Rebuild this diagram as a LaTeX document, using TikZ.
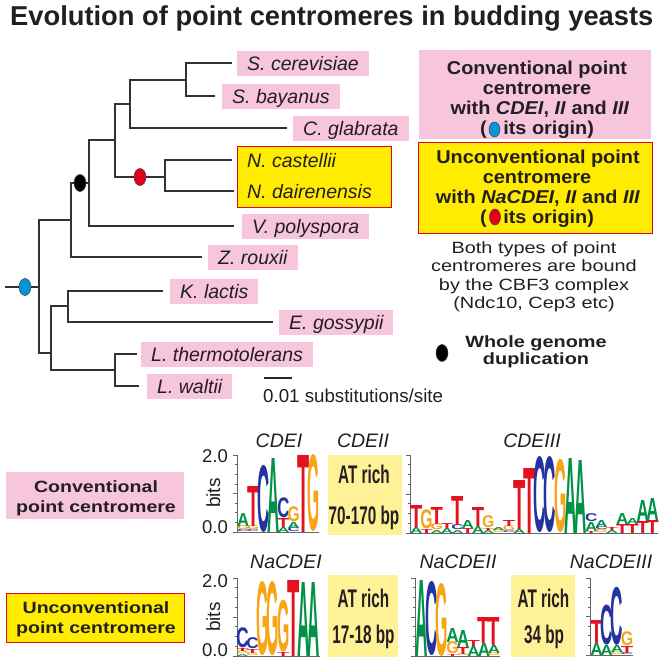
\documentclass[tikz,border=0pt]{standalone}
\usepackage{fontspec}
\setmainfont{Liberation Sans}
\usepackage{graphicx}
\usetikzlibrary{shapes.geometric}

\definecolor{txt}{RGB}{35,31,32}
\definecolor{pinkbg}{RGB}{247,197,220}
\definecolor{yelbg}{RGB}{255,236,0}
\definecolor{redline}{RGB}{226,0,26}
\definecolor{atbg}{RGB}{255,242,150}
\definecolor{ntA}{RGB}{0,146,69}
\definecolor{ntC}{RGB}{35,52,160}
\definecolor{ntG}{RGB}{248,164,20}
\definecolor{ntT}{RGB}{228,18,30}
\definecolor{dotblue}{RGB}{0,150,220}
\definecolor{dotred}{RGB}{226,0,26}

%% one column of a sequence logo: name, x centre, baseline, letters bottom to top
\newcommand\logocol[4]{%
  \xdef\ystack{#3}%
  \foreach \nuc/\hgt [count=\i] in {#4} {
    \node[ntletter] (#1-\i) at (#2,\ystack) {\resizebox*{\colw}{\hgt pt}{\textcolor{nt\nuc}{\nuc}}};
    \pgfmathsetmacro\ynext{\ystack-\hgt}
    \xdef\ystack{\ynext}
  }%
}
%% logo axes: name, x, y top, y bottom, x end
\newcommand\logoaxis[5]{%
  \coordinate (#1-top) at (#2,#3);
  \coordinate (#1-org) at (#2,#4);
  \coordinate (#1-end) at (#5,#4);
  \draw[axisline] (#1-top) -- (#1-org) -- (#1-end);
  \foreach \t in {0,...,8} {
    \pgfmathsetmacro\yt{#4-(#4-#3)*\t/8}
    \pgfmathsetmacro\tl{mod(\t,4)==0 ? 4 : 2}
    \draw[axisline] (#2,\yt) -- ++(-\tl,0);
  }%
}

\begin{document}
\begin{tikzpicture}[x=1pt, y=-1pt,
  branch/.style={draw=black!80, line width=1.6pt},
  leaf/.style={fill=pinkbg, text=txt, anchor=west, font={\fontsize{19.5}{22}\selectfont\itshape},
    text height=14pt, text depth=0pt, minimum height=25pt, inner xsep=10pt, inner ysep=0pt},
  leafin/.style={leaf, fill=none},
  wdot/.style={ellipse, draw=black!75, line width=0.5pt, inner sep=0pt, minimum width=12pt, minimum height=17pt},
  txtline/.style={inner sep=0pt, anchor=base, text=txt},
  boxline/.style={txtline, font={\fontsize{18.6}{20}\selectfont\bfseries}, xscale=1.07},
  noteline/.style={txtline, font={\fontsize{16.3}{18}\selectfont}, xscale=1.22},
  wgdline/.style={txtline, font={\fontsize{16.3}{18}\selectfont\bfseries}, xscale=1.22},
  rowline/.style={txtline, font={\fontsize{16.3}{18}\selectfont\bfseries}, xscale=1.2},
  logotitle/.style={txtline, font={\fontsize{19.5}{22}\selectfont\itshape}},
  bitnum/.style={txtline, anchor=base east, font={\fontsize{18.5}{20}\selectfont}},
  atline/.style={txtline, font={\fontsize{25.5}{28}\selectfont\bfseries}, xscale=0.6},
  ntletter/.style={inner sep=0pt, outer sep=0pt, anchor=south, font=\bfseries},
  axisline/.style={draw=black!60, line width=0.6pt},
  panel/.style={inner sep=0pt, anchor=north west}]

\useasboundingbox (0,0) rectangle (664,664);
\fill[white] (0,0) rectangle (664,664);

\node[txtline, anchor=base west, font={\fontsize{27.3}{30}\selectfont\bfseries}] (title) at (10,25)
  {Evolution of point centromeres in budding yeasts};

%% === tree ===
\coordinate (r0)  at (5,287);
\coordinate (nR)  at (39,287);
\coordinate (nU)  at (71,220);
\coordinate (nW)  at (89,183);
\coordinate (nA1) at (115,140);
\coordinate (nA2) at (130,104);
\coordinate (nA3) at (186,80);
\coordinate (nN)  at (165,177);
\coordinate (nL)  at (51,353);
\coordinate (nK)  at (68,306);
\coordinate (nLt) at (115,370);

\node[leaf] (Sc) at (237,63) {S. cerevisiae};
\node[leaf] (Sb) at (222,96) {S. bayanus};
\node[leaf] (Cg) at (293,128) {C. glabrata};
\node[panel, fill=yelbg, draw=redline, line width=1.2pt, minimum width=154pt, minimum height=61pt] (Nbox) at (237,146) {};
\node[leafin] (Nc) at (237,160) {N. castellii};
\node[leafin] (Nd) at (237,191) {N. dairenensis};
\node[leaf] (Vp) at (242,226) {V. polyspora};
\node[leaf] (Zr) at (208,257) {Z. rouxii};
\node[leaf] (Kl) at (170,291) {K. lactis};
\node[leaf] (Eg) at (279,322) {E. gossypii};
\node[leaf] (Lth) at (141,354) {L. thermotolerans};
\node[leaf] (Lwa) at (147,386) {L. waltii};

\draw[branch] (r0) -- (nR);
\draw[branch] (nR) |- (nU);
\draw[branch] (nR) |- (nL);
\draw[branch] (nU) |- (nW);
\draw[branch, shorten >=6pt] (nU) |- (Zr.west);
\draw[branch] (nW) |- (nA1);
\draw[branch, shorten >=8pt] (nW) |- (Vp.west);
\draw[branch] (nA1) |- (nA2);
\draw[branch] (nA1) |- (nN);
\draw[branch] (nA2) |- (nA3);
\draw[branch, shorten >=6pt] (nA2) |- (Cg.west);
\draw[branch, shorten >=5pt] (nA3) |- (Sc.west);
\draw[branch, shorten >=7pt] (nA3) |- (Sb.west);
\draw[branch, shorten >=5pt] (nN) |- (Nc.west);
\draw[branch, shorten >=3pt] (nN) |- (Nd.west);
\draw[branch] (nL) |- (nK);
\draw[branch] (nL) |- (nLt);
\draw[branch, shorten >=7pt] (nK) |- (Kl.west);
\draw[branch, shorten >=6pt] (nK) |- (Eg.west);
\draw[branch, shorten >=4pt] (nLt) |- (Lth.west);
\draw[branch, shorten >=8pt] (nLt) |- (Lwa.west);

\node[wdot, fill=dotblue] (oConv) at (25,287) {};
\node[wdot, fill=black] (oWGD) at (80,183) {};
\node[wdot, fill=dotred] (oNa) at (140,177) {};

%% scale bar
\coordinate (sbL) at (264,378);
\coordinate (sbR) at (292,378);
\draw[line width=2.6pt, black!85] (sbL) -- (sbR);
\node[txtline, anchor=base west, font={\fontsize{18.7}{20}\selectfont}] (sbT) at (263,402) {0.01 substitutions/site};

%% === legend ===
\node[panel, fill=pinkbg, minimum width=232pt, minimum height=89pt] (convBox) at (419,50) {};
\node[boxline] (cv1) at (537,74) {Conventional point};
\node[boxline] (cv2) at (537,94) {centromere};
\node[boxline] (cv3) at (540,114) {with \textit{CDEI}, \textit{II} and \textit{III}};
\node[boxline] (cv4) at (537,134) {(\hspace{15.6pt}its origin)};
\node[wdot, fill=dotblue, minimum width=11pt, minimum height=15pt] (oConvKey) at (494.5,129.5) {};

\node[panel, fill=yelbg, draw=redline, line width=1.2pt, minimum width=234pt, minimum height=91pt] (unconvBox) at (418,142) {};
\node[boxline] (uc1) at (538,163) {Unconventional point};
\node[boxline] (uc2) at (537,183) {centromere};
\node[boxline] (uc3) at (538,203) {with \textit{NaCDEI}, \textit{II} and \textit{III}};
\node[boxline] (uc4) at (537,223) {(\hspace{15.6pt}its origin)};
\node[wdot, fill=dotred, minimum width=11pt, minimum height=16pt] (oNaKey) at (495,217) {};

\node[noteline] (cb1) at (534,253) {Both types of point};
\node[noteline] (cb2) at (534,271.5) {centromeres are bound};
\node[noteline] (cb3) at (534,290) {by the CBF3 complex};
\node[noteline] (cb4) at (534,308) {(Ndc10, Cep3 etc)};

\node[wdot, fill=black] (oWGDKey) at (442,353) {};
\node[wgdline] (wg1) at (536,347) {Whole genome};
\node[wgdline] (wg2) at (536,364) {duplication};

%% === rows of logos ===
\node[panel, fill=pinkbg, minimum width=178pt, minimum height=47pt] (convRow) at (6,472) {};
\node[rowline] (cr1) at (96,492) {Conventional};
\node[rowline] (cr2) at (96,512) {point centromere};
\node[panel, fill=yelbg, draw=redline, line width=1.2pt, minimum width=178pt, minimum height=49pt] (unconvRow) at (6,593) {};
\node[rowline] (ur1) at (96,613) {Unconventional};
\node[rowline] (ur2) at (96,633) {point centromere};

\node[logotitle] (tA) at (279,447) {CDEI};
\node[logotitle] (tB) at (363,447) {CDEII};
\node[logotitle] (tC) at (532,447) {CDEIII};
\node[logotitle] (tD) at (286,568) {NaCDEI};
\node[logotitle] (tE) at (458,568) {NaCDEII};
\node[logotitle] (tF) at (611,568) {NaCDEIII};

\node[bitnum] (yA2) at (228,462) {2.0};
\node[bitnum] (yA0) at (228,533) {0.0};
\node[bitnum] (yD2) at (228,587) {2.0};
\node[bitnum] (yD0) at (228,656) {0.0};
\node[txtline, rotate=90, font={\fontsize{19}{20}\selectfont}] (bA) at (220,493) {bits};
\node[txtline, rotate=90, font={\fontsize{19}{20}\selectfont}] (bD) at (220,617) {bits};

%% AT rich spacers
\node[panel, fill=atbg, minimum width=74pt, minimum height=80pt] (atB) at (328,455) {};
\node[atline] (atB1) at (364,483) {AT rich};
\node[atline] (atB2) at (364,524) {70-170 bp};
\node[panel, fill=atbg, minimum width=70pt, minimum height=82pt] (atE) at (328,575) {};
\node[atline] (atE1) at (363.5,607) {AT rich};
\node[atline] (atE2) at (363.5,643) {17-18 bp};
\node[panel, fill=atbg, minimum width=64pt, minimum height=82pt] (atF) at (511,575) {};
\node[atline] (atF1) at (543.5,607) {AT rich};
\node[atline] (atF2) at (544,643) {34 bp};

%% CDEI
\def\colw{12.1pt}
\logoaxis{axA}{237}{455}{532}{319}
\logocol{cA1}{243.1}{532}{C/2,G/4,A/13}
\logocol{cA2}{253.2}{532}{C/2,G/4,T/40}
\logocol{cA3}{263.3}{532}{C/67}
\logocol{cA4}{273.4}{532}{A/74}
\logocol{cA5}{283.5}{532}{A/5,T/9,C/20}
\logocol{cA6}{293.6}{532}{C/4,A/6,G/15}
\logocol{cA7}{303.7}{532}{T/77}
\logocol{cA8}{313.8}{532}{G/77}

%% CDEIII
\def\colw{12.3pt}
\logoaxis{axC}{410}{455}{533}{658}
\logocol{cC1}{416.2}{533}{A/6,T/22}
\logocol{cC2}{426.5}{533}{T/4,G/19}
\logocol{cC3}{436.8}{533}{A/3,G/6,T/17}
\logocol{cC4}{447.1}{533}{A/5,T/5}
\logocol{cC5}{457.4}{533}{A/3,C/5,T/29}
\logocol{cC6}{467.7}{533}{T/5,A/8}
\logocol{cC7}{478.0}{533}{A/7,T/19}
\logocol{cC8}{488.3}{533}{A/3,T/2,G/12}
\logocol{cC9}{498.6}{533}{G/3,A/3}
\logocol{cC10}{508.9}{533}{C/2,G/5,T/6}
\logocol{cC11}{519.2}{533}{A/4,T/49}
\logocol{cC12}{529.5}{533}{T/65}
\logocol{cC13}{539.8}{533}{C/76}
\logocol{cC14}{550.1}{533}{C/76}
\logocol{cC15}{560.4}{533}{G/73}
\logocol{cC16}{570.7}{533}{A/75}
\logocol{cC17}{581.0}{533}{A/73}
\logocol{cC18}{591.3}{533}{T/2,A/9,C/8}
\logocol{cC19}{601.6}{533}{G/3,C/3,A/7}
\logocol{cC20}{611.9}{533}{A/3,T/3}
\logocol{cC21}{622.2}{533}{T/9,A/11}
\logocol{cC22}{632.5}{533}{T/9,A/6}
\logocol{cC23}{642.8}{533}{T/12,A/21}
\logocol{cC24}{652.6}{533}{T/13,A/22}

%% NaCDEI
\logoaxis{axD}{237}{578}{656}{320}
\logocol{cD1}{242.6}{656}{A/2,G/3,T/3,C/20}
\logocol{cD2}{252.6}{656}{G/3,T/4,C/11}
\logocol{cD3}{262.6}{656}{G/74}
\logocol{cD4}{272.9}{656}{G/74}
\logocol{cD5}{283.2}{656}{T/4,G/52}
\logocol{cD6}{293.5}{656}{T/76}
\logocol{cD7}{303.8}{656}{A/74}
\logocol{cD8}{314.1}{656}{A/74}

%% NaCDEII
\def\colw{12.4pt}
\logoaxis{axE}{415}{578}{656}{500}
\logocol{cE1}{421.5}{656}{A/76}
\logocol{cE2}{431.5}{656}{C/74}
\logocol{cE3}{442.0}{656}{G/73}
\logocol{cE4}{452.5}{656}{T/2,G/12,A/14}
\logocol{cE5}{463.0}{656}{G/2,T/7,A/17}
\logocol{cE6}{473.5}{656}{A/10,T/6}
\logocol{cE7}{484.0}{656}{A/13,T/26}
\logocol{cE8}{494.0}{656}{G/3,A/8,T/28}

%% NaCDEIII
\logoaxis{axF}{590}{578}{655}{633}
\logocol{cF1}{596.5}{655}{A/12,T/23}
\logocol{cF2}{606.5}{655}{A/10,C/40}
\logocol{cF3}{617.0}{655}{G/3,A/7,C/58}
\logocol{cF4}{627.0}{655}{C/2,T/7,G/14}

\end{tikzpicture}
\end{document}
